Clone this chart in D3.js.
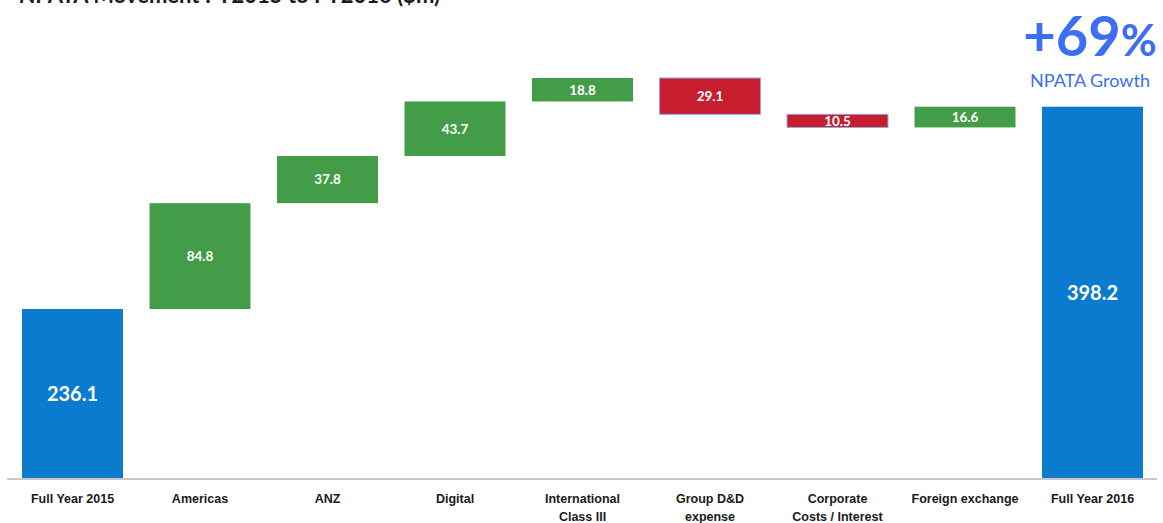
<!DOCTYPE html>
<html>
<head>
<meta charset="utf-8">
<script src="https://cdn.jsdelivr.net/npm/d3@7"></script>
<style>
  html, body { margin: 0; padding: 0; background: #fff; }
  svg { display: block; font-family: Lato, "Open Sans", sans-serif; }
</style>
</head>
<body>
<svg id="chart" width="1163" height="523"></svg>
<script>
// NPATA movement FY2015 to FY2016 ($m)
const categories = [
  "Full Year 2015", "Americas", "ANZ", "Digital", "International\nClass III",
  "Group D&D\nexpense", "Corporate\nCosts / Interest", "Foreign exchange", "Full Year 2016"
];
const values = [236.1, 84.8, 37.8, 43.7, 18.8, -29.1, -10.5, 16.6, 398.2];
const kinds = ["total", "step", "step", "step", "step", "step", "step", "step", "total"];
const axisFloor = 100;
const growthNumber = "+69";
const growthUnit = "%";
const growthCaption = "NPATA Growth";
const titleText = "NPATA Movement FY2015 to FY2016 ($m)";

const colors = { total: "#0b7bcf", up: "#439c47", down: "#c61d2f" };

// Running totals give each bar its start and end
let running = 0;
const rows = categories.map((c, i) => {
  const v = values[i];
  let y0, y1, type;
  if (kinds[i] === "total") {
    y0 = axisFloor; y1 = v; running = v; type = "total";
  } else {
    y0 = running; y1 = running + v; running = y1; type = v >= 0 ? "up" : "down";
  }
  return { cat: c, value: v, lo: Math.min(y0, y1), hi: Math.max(y0, y1), type };
});

const svg = d3.select("#chart");

const x = d3.scaleBand()
  .domain(categories)
  .range([8.75, 1156.25])
  .paddingInner(0.208)
  .paddingOuter(0.104);

const y = d3.scaleLinear()
  .domain([axisFloor, d3.max(rows, d => d.hi)])
  .range([478.9, 78]);

// Title (sits partly above the frame)
svg.append("text")
  .attr("x", 440).attr("y", 3)
  .attr("text-anchor", "end")
  .attr("font-size", 22).attr("font-weight", 700)
  .attr("fill", "#1a1a1a")
  .text(titleText);

// Bars
svg.append("g").selectAll("rect")
  .data(rows)
  .join("rect")
  .attr("x", d => x(d.cat))
  .attr("width", x.bandwidth())
  .attr("y", d => y(d.hi))
  .attr("height", d => y(d.lo) - y(d.hi))
  .attr("fill", d => colors[d.type])
  .attr("stroke", d => d.type === "down" ? "#8fa9dc" : "none")
  .attr("stroke-width", 1);

// Value labels
svg.append("g").selectAll("text")
  .data(rows)
  .join("text")
  .attr("x", d => x(d.cat) + x.bandwidth() / 2)
  .attr("y", d => (y(d.lo) + y(d.hi)) / 2)
  .attr("dy", "0.36em")
  .attr("text-anchor", "middle")
  .attr("font-weight", 700)
  .attr("font-size", d => d.type === "total" ? 20 : 13.5)
  .attr("fill", "#fff")
  .text(d => Math.abs(d.value).toFixed(1));

// Category axis
const axis = svg.append("g")
  .attr("transform", `translate(0,${y(axisFloor)})`)
  .call(d3.axisBottom(x).tickSize(0).tickFormat(""));
axis.select(".domain")
  .attr("d", "M7,0H1157")
  .attr("stroke", "#c8c8c8")
  .attr("stroke-width", 2);

axis.selectAll(".tick").each(function(d) {
  const t = d3.select(this).append("text")
    .attr("text-anchor", "middle")
    .attr("font-size", 12.5)
    .attr("font-weight", 700)
    .attr("fill", "#1a1a1a");
  d.split("\n").forEach((line, i) => {
    t.append("tspan").attr("x", 0).attr("y", 24 + i * 18).text(line);
  });
});

// Growth callout
const callout = svg.append("text")
  .attr("x", 1090).attr("y", 56)
  .attr("text-anchor", "middle")
  .attr("font-weight", 700)
  .attr("fill", "#3b6ef2");
callout.append("tspan").attr("font-size", 56).text(growthNumber);
callout.append("tspan").attr("font-size", 44).text(growthUnit);

svg.append("text")
  .attr("x", 1090).attr("y", 87)
  .attr("text-anchor", "middle")
  .attr("font-size", 18)
  .attr("fill", "#3b6ef2")
  .text(growthCaption);
</script>
</body>
</html>
